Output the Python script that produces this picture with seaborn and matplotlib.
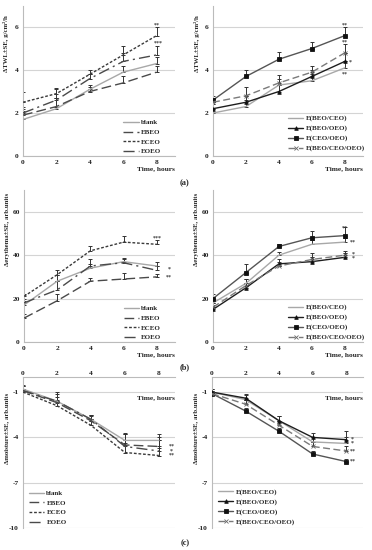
import numpy as np
import pandas as pd
import seaborn as sns
import matplotlib
matplotlib.use("Agg")
import matplotlib.pyplot as plt

# ---------------- data ----------------
hours = [0, 2, 4, 6, 8]

left_names = ["blank", "EBEO", "ECEO", "EOEO"]
right_names = ["E(BEO/CEO)", "E(BEO/OEO)", "E(CEO/OEO)", "E(BEO/CEO/OEO)"]

# (a) TEWL
twl_blank = [1.7, 2.2, 3.1, 3.9, 4.3]
twl_ebeo = [1.9, 2.3, 3.0, 3.4, 3.9]
twl_eceo = [2.5, 2.9, 3.8, 4.7, 5.6]
twl_eoeo = [2.0, 2.6, 3.6, 4.4, 4.7]
twl_blank_err = [0.4, 0.5, 0.2, 0.3, 0.3]
twl_ebeo_err = [0.3, 0.4, 0.2, 0.3, 0.3]
twl_eceo_err = [0.5, 0.25, 0.2, 0.4, 0.4]
twl_eoeo_err = [0.3, 0.5, 0.2, 0.4, 0.4]

twl_bc = [2.0, 2.3, 3.3, 3.5, 4.1]
twl_bo = [2.2, 2.5, 3.0, 3.7, 4.4]
twl_co = [2.6, 3.7, 4.5, 5.0, 5.6]
twl_bco = [2.5, 2.8, 3.4, 3.9, 4.8]
twl_bc_err = [0.2, 0.3, 0.3, 0.3, 0.3]
twl_bo_err = [0.2, 0.3, 0.3, 0.3, 0.4]
twl_co_err = [0.2, 0.3, 0.35, 0.3, 0.4]
twl_bco_err = [0.2, 0.4, 0.35, 0.3, 0.4]

# (b) erythema
ery_blank = [17, 28, 34, 37, 35]
ery_ebeo = [11, 19, 28, 29, 30]
ery_eceo = [21, 31, 42, 46, 45]
ery_eoeo = [18, 24, 35, 36.5, 33]
ery_blank_err = [2, 3, 2, 1.5, 2]
ery_ebeo_err = [2, 3, 1.5, 3, 1.5]
ery_eceo_err = [1, 2, 2, 3, 2]
ery_eoeo_err = [2, 4, 3, 1.5, 2]

ery_bc = [18, 27, 40, 45, 46]
ery_bo = [15, 25, 36, 37, 39]
ery_co = [20, 32, 44, 48, 49]
ery_bco = [16, 26, 35, 38, 40]
ery_bc_err = [2, 2, 1.5, 2, 2]
ery_bo_err = [2, 2, 2, 2, 2]
ery_co_err = [2, 4, 1, 3, 4]
ery_bco_err = [2, 3, 2, 3, 2]

# (c) moisture
moi_blank = [-0.8, -1.6, -2.8, -4.2, -4.2]
moi_ebeo = [-0.9, -1.7, -2.9, -4.5, -4.6]
moi_eceo = [-1.0, -1.9, -3.2, -5.0, -5.2]
moi_eoeo = [-0.9, -1.6, -2.8, -4.6, -4.9]
moi_blank_err = [0.3, 0.5, 0.3, 0.5, 0.4]
moi_ebeo_err = [0.3, 0.4, 0.3, 0.7, 0.6]
moi_eceo_err = [0.2, 0.4, 0.3, 0.6, 0.5]
moi_eoeo_err = [0.3, 0.6, 0.3, 0.8, 0.7]

moi_bc = [-1.0, -1.5, -2.9, -4.3, -4.4]
moi_bo = [-1.0, -1.4, -2.9, -4.0, -4.15]
moi_co = [-1.1, -2.25, -3.6, -5.1, -5.6]
moi_bco = [-1.1, -1.8, -3.2, -4.6, -4.9]
moi_bc_err = [0.2, 0.3, 0.3, 0.3, 0.4]
moi_bo_err = [0.2, 0.3, 0.3, 0.3, 0.6]
moi_co_err = [0.2, 0.2, 0.2, 0.2, 0.2]
moi_bco_err = [0.2, 0.3, 0.3, 0.3, 0.3]

# annotation marks (x, y, text)
ann_a_left = [(8.0, 6.08, "**"), (8.1, 5.27, "***")]
ann_a_right = [(8.0, 6.08, "**"), (8.0, 5.28, "**"), (8.35, 4.38, "*"), (8.0, 3.82, "**")]
ann_b_left = [(8.05, 48.0, "***"), (8.75, 33.5, "*"), (8.75, 29.7, "**")]
ann_b_right = [(8.0, 52.5, "**"), (8.5, 46.0, "**"), (8.5, 40.6, "*"), (8.5, 38.6, "*")]
ann_c_left = [(8.75, -4.6, "**"), (8.75, -4.88, "*"), (8.75, -5.15, "**")]
ann_c_right = [(8.35, -4.12, "*"), (8.35, -4.4, "*"), (8.4, -4.93, "**"), (8.4, -5.6, "**")]

# ---------------- styles ----------------
left_styles = [
    dict(color="#a8a8a8", linestyle="-", marker=None, mcolor=None),
    dict(color="#4a4a4a", linestyle=(0, (7, 3)), marker=None, mcolor=None),
    dict(color="#3a3a3a", linestyle=(0, (2, 1.3)), marker=None, mcolor=None),
    dict(color="#4a4a4a", linestyle=(0, (8, 3, 1.5, 3)), marker=None, mcolor=None),
]
right_styles = [
    dict(color="#a8a8a8", linestyle="-", marker=None, mcolor=None),
    dict(color="#1e1e1e", linestyle="-", marker="^", mcolor="#111111"),
    dict(color="#555555", linestyle="-", marker="s", mcolor="#111111"),
    dict(color="#7a7a7a", linestyle=(0, (5, 2.5)), marker="x", mcolor="#666666"),
]

sns.set_theme(style="white")
plt.rcParams["font.family"] = ["Liberation Serif", "DejaVu Serif"]
plt.rcParams["font.weight"] = "bold"

fig = plt.figure(figsize=(3.72, 5.5), dpi=100)

W, H = 372.0, 550.0


def make_ax(x0, x8, xright, ybot, ytop):
    return fig.add_axes([x0 / W, 1 - ybot / H, (xright - x0) / W, (ybot - ytop) / H])


def draw(ax, names, series, errs, styles, ann, ylim, yticks, ylabel, ylab_y,
         legend_anchor, top_axis=False, xmax=9.1):
    for name, vals, err, st in zip(names, series, errs, styles):
        df = pd.DataFrame({"Time": hours, "val": vals})
        ax.errorbar(hours, vals, yerr=[np.zeros(len(err)), err], fmt="none",
                    ecolor="#333333", elinewidth=0.7, capsize=1.4, capthick=0.7, zorder=2)
        kw = dict(color=st["color"], linewidth=1.0, linestyle=st["linestyle"])
        if st["marker"] is not None:
            kw.update(marker=st["marker"], markersize=2.6, markeredgewidth=0.6,
                      markeredgecolor=st["mcolor"], markerfacecolor=st["mcolor"])
        sns.lineplot(data=df, x="Time", y="val", ax=ax, label=name, errorbar=None,
                     zorder=3, **kw)
    for (x, y, t) in ann:
        ax.text(x, y, t, fontsize=4.2, ha="center", va="center", color="#333333")
    ax.set_xlim(0, xmax)
    ax.set_ylim(*ylim)
    ax.set_xticks(hours)
    ax.set_xticklabels([str(h) for h in hours])
    ax.set_yticks(yticks)
    ax.set_yticklabels([str(v) for v in yticks])
    ax.yaxis.grid(True, color="#d4d4d4", linewidth=0.8)
    ax.xaxis.grid(False)
    ax.tick_params(axis="both", length=0, labelsize=5.3, pad=3, colors="#222222")
    ax.spines["right"].set_visible(False)
    ax.spines["left"].set_color("#bbbbbb")
    ax.spines["left"].set_linewidth(0.8)
    if top_axis:
        ax.xaxis.tick_top()
        ax.spines["bottom"].set_visible(False)
        ax.spines["top"].set_color("#bbbbbb")
        ax.spines["top"].set_linewidth(0.8)
        ax.tick_params(axis="x", pad=0.5)
        ax.text(1.0, 0.865, "Time, hours", transform=ax.transAxes, ha="right",
                va="center", fontsize=5.3, fontweight="bold")
    else:
        ax.spines["top"].set_visible(False)
        ax.spines["bottom"].set_color("#bbbbbb")
        ax.spines["bottom"].set_linewidth(0.8)
        ax.text(1.0, -0.085, "Time, hours", transform=ax.transAxes, ha="right",
                va="center", fontsize=5.3, fontweight="bold")
    ax.set_xlabel("")
    ax.set_ylabel("")
    ax.text(-0.11, ylab_y, ylabel, transform=ax.transAxes, rotation=90,
            ha="center", va="center", fontsize=4.9, fontweight="bold")
    leg = ax.legend(loc="lower left", bbox_to_anchor=legend_anchor, frameon=False,
                    fontsize=5.0, handlelength=2.2, handletextpad=0.3,
                    labelspacing=0.55, borderaxespad=0, borderpad=0)
    for t in leg.get_texts():
        t.set_fontweight("bold")


twl_label = "ΔTWL±SE, g/cm²/h"
ery_label = "Δerythema±SE, arb.units"
moi_label = "Δmoisture±SE, arb.units"

# (a)
ax = make_ax(23, 157, 175, 156, 5.5)
draw(ax, left_names, [twl_blank, twl_ebeo, twl_eceo, twl_eoeo],
     [twl_blank_err, twl_ebeo_err, twl_eceo_err, twl_eoeo_err], left_styles,
     ann_a_left, (0, 7), [0, 2, 4, 6], twl_label, 0.75, (0.66, 0.01))
ax = make_ax(213, 346, 363, 156, 5.5)
draw(ax, right_names, [twl_bc, twl_bo, twl_co, twl_bco],
     [twl_bc_err, twl_bo_err, twl_co_err, twl_bco_err], right_styles,
     ann_a_right, (0, 7), [0, 2, 4, 6], twl_label, 0.75, (0.50, 0.03))

# (b)
ax = make_ax(24, 157, 175, 342, 190)
draw(ax, left_names, [ery_blank, ery_ebeo, ery_eceo, ery_eoeo],
     [ery_blank_err, ery_ebeo_err, ery_eceo_err, ery_eoeo_err], left_styles,
     ann_b_left, (0, 70), [0, 20, 40, 60], ery_label, 0.74, (0.66, 0.01))
ax = make_ax(213, 346, 363, 342, 190)
draw(ax, right_names, [ery_bc, ery_bo, ery_co, ery_bco],
     [ery_bc_err, ery_bo_err, ery_co_err, ery_bco_err], right_styles,
     ann_b_right, (0, 70), [0, 20, 40, 60], ery_label, 0.74, (0.50, 0.01))

# (c)
ax = make_ax(23, 159, 175, 528, 377)
draw(ax, left_names, [moi_blank, moi_ebeo, moi_eceo, moi_eoeo],
     [moi_blank_err, moi_ebeo_err, moi_eceo_err, moi_eoeo_err], left_styles,
     ann_c_left, (-10, 0), [-1, -4, -7, -10], moi_label, 0.66, (0.04, 0.02),
     top_axis=True, xmax=8.95)
ax = make_ax(212, 346, 363, 528, 377)
draw(ax, right_names, [moi_bc, moi_bo, moi_co, moi_bco],
     [moi_bc_err, moi_bo_err, moi_co_err, moi_bco_err], right_styles,
     ann_c_right, (-10, 0), [-1, -4, -7, -10], moi_label, 0.66, (0.04, 0.02),
     top_axis=True, xmax=9.0)

for lbl, yp in [("(a)", 183), ("(b)", 367), ("(c)", 543)]:
    fig.text(185 / W, 1 - yp / H, lbl, ha="center", va="center", fontsize=6.0,
             fontweight="bold")

fig.savefig("out.png", dpi=100)
